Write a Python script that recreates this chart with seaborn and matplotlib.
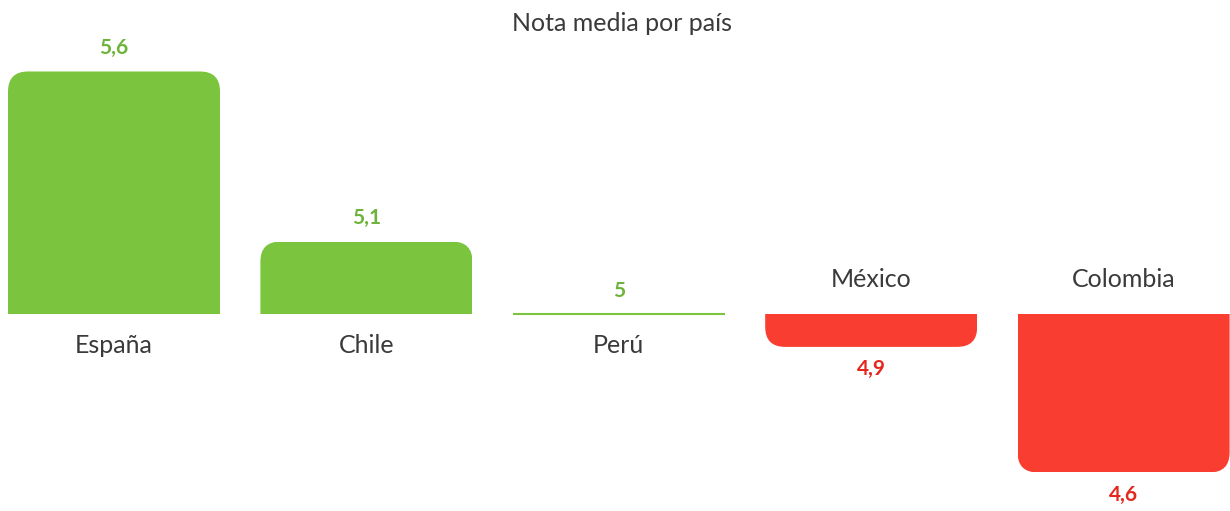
import matplotlib
matplotlib.use('Agg')  # sin pantalla

import matplotlib.pyplot as plt
from matplotlib.patches import FancyBboxPatch, Rectangle
import seaborn as sns
import pandas as pd

# datos
paises = ['España', 'Chile', 'Perú', 'México', 'Colombia']
notas = [5.6, 5.18, 5.0, 4.92, 4.61]
etiquetas = ['5,6', '5,1', '5', '4,9', '4,6']
referencia = 5.0

VERDE = '#7BC43E'
ROJO = '#F93D31'
VERDE_TXT = '#6DB43A'
ROJO_TXT = '#E4271F'
GRIS = '#3A3A3A'

sns.set_theme(style='white')
plt.rcParams['font.family'] = ['Lato', 'DejaVu Sans']

df = pd.DataFrame({'pais': paises, 'nota': notas})
df['dif'] = df['nota'] - referencia
colores = {p: (VERDE if d >= 0 else ROJO) for p, d in zip(df['pais'], df['dif'])}

fig = plt.figure(figsize=(12.3, 5.11), dpi=100)
ax = fig.add_axes([0, 0, 1, 1])

sns.barplot(data=df, x='pais', y='dif', hue='pais', palette=colores,
            width=0.84, saturation=1, legend=False, ax=ax)

# escala: ~252 px por categoría, ~405 px por punto de nota
ax.set_xlim(-0.4517, 4.4216)
ax.set_ylim(-0.4852, 0.7765)
ax.axis('off')

# esquinas redondeadas solo en el extremo libre de la barra
rx = 20 / 252.4
ry = 20 / 405
barras = [p for p in ax.patches if isinstance(p, Rectangle)]
for p, d in zip(barras, df['dif']):
    x0, w = p.get_x(), p.get_width()
    if abs(d) < 1e-9:
        p.set_edgecolor(p.get_facecolor())
        p.set_linewidth(1.5)
        continue
    p.set_visible(False)
    if d > 0:
        y0, h = -ry, d + ry
    else:
        y0, h = d, -d + ry
    caja = FancyBboxPatch((x0, y0), w, h,
                          boxstyle=f'round,pad=0,rounding_size={rx}',
                          mutation_aspect=ry / rx,
                          facecolor=p.get_facecolor(), edgecolor='none')
    ax.add_patch(caja)
    corte = Rectangle((x0, min(0, d)), w, abs(d), transform=ax.transData)
    caja.set_clip_path(corte)

# etiquetas de valor y de país
for i, (pais, d, lab) in enumerate(zip(df['pais'], df['dif'], etiquetas)):
    positivo = d >= 0
    ax.annotate(lab, (i, d), xytext=(0, 17 if positivo else -16),
                textcoords='offset points', ha='center', va='center',
                fontsize=15, fontweight='bold',
                color=VERDE_TXT if positivo else ROJO_TXT)
    ax.annotate(pais, (i, 0), xytext=(0, -22 if positivo else 25),
                textcoords='offset points', ha='center', va='center',
                fontsize=18, color=GRIS)

fig.text(0.506, 1 - 23 / 511, 'Nota media por país', ha='center', va='center',
         fontsize=18, color=GRIS)

fig.savefig('out.png', dpi=100)
